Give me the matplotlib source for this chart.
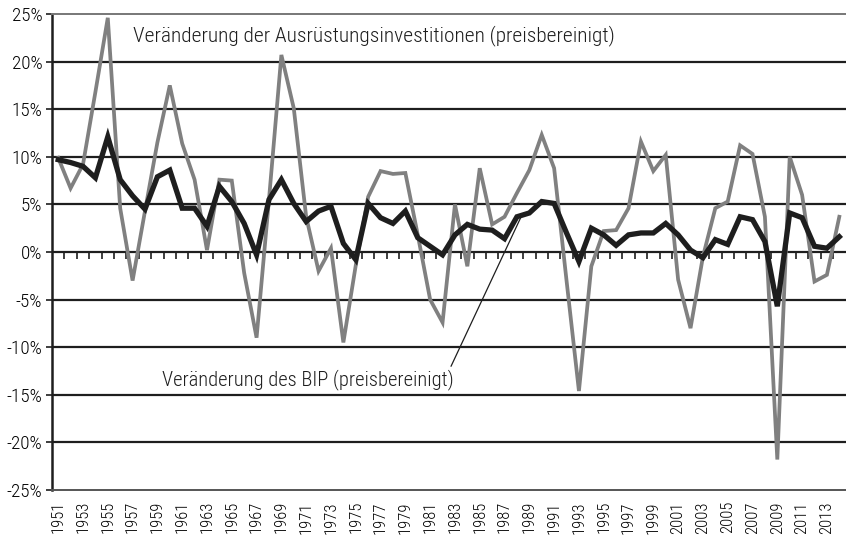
import matplotlib
matplotlib.use("Agg")
import matplotlib.pyplot as plt
import numpy as np

plt.rcParams['font.family'] = ['Roboto Condensed', 'Archivo Narrow', 'DejaVu Sans']
plt.rcParams['font.weight'] = 'light'

jahre = list(range(1951, 2015))

# Veränderung der Ausrüstungsinvestitionen (preisbereinigt), in %
investitionen = [9.9, 6.7, 9.2, 16.8, 24.6, 4.6, -3.0, 4.3, 11.5, 17.5,
                 11.4, 7.6, 0.2, 7.6, 7.5, -2.2, -9.0, 5.5, 20.7, 15.1,
                 3.7, -2.0, 0.4, -9.5, -1.4, 5.8, 8.5, 8.2, 8.3, 1.8,
                 -5.0, -7.4, 5.0, -1.5, 8.8, 2.9, 3.7, 6.2, 8.6, 12.3,
                 8.8, -3.0, -14.6, -1.5, 2.2, 2.3, 4.6, 11.6, 8.5, 10.2,
                 -2.9, -8.0, -0.5, 4.6, 5.3, 11.2, 10.3, 3.7, -21.8, 10.0,
                 6.0, -3.1, -2.4, 3.7]

# Veränderung des BIP (preisbereinigt), in %
bip = [9.7, 9.4, 9.0, 7.8, 12.1, 7.6, 5.9, 4.5, 7.9, 8.6,
       4.6, 4.6, 2.7, 6.9, 5.3, 3.0, -0.3, 5.5, 7.6, 5.1,
       3.2, 4.3, 4.8, 0.9, -0.8, 5.1, 3.6, 3.0, 4.3, 1.5,
       0.6, -0.3, 1.8, 2.9, 2.4, 2.3, 1.4, 3.7, 4.1, 5.3,
       5.1, 2.0, -1.0, 2.5, 1.8, 0.7, 1.8, 2.0, 2.0, 3.0,
       1.8, 0.2, -0.6, 1.3, 0.8, 3.7, 3.4, 1.1, -5.7, 4.1,
       3.6, 0.6, 0.4, 1.6]

y_ticks = list(range(-25, 30, 5))
x_labels = jahre[::2]

fig = plt.figure(figsize=(8.46, 5.39), dpi=100)
ax = fig.add_axes([52 / 846, 49 / 539, 793.5 / 846, 476 / 539])

for v in y_ticks[1:-1]:
    ax.axhline(v, color='#1e1e1e', lw=1.6, zorder=1)

ax.plot(jahre, investitionen, color='#808080', lw=2.7, zorder=3,
        solid_joinstyle='miter')
ax.plot(jahre, bip, color='#1e1e1e', lw=3.8, zorder=4,
        solid_joinstyle='miter')

ax.set_xlim(1950.5, 2014.5)
ax.set_ylim(-25, 25)
ax.set_yticks(y_ticks)
ax.set_yticklabels([f'{v}%' for v in y_ticks], fontsize=13.8)
ax.tick_params(axis='y', length=4, width=1.2, pad=3, color='#1e1e1e')
ax.set_xticks(x_labels)
ax.set_xticklabels([str(j) for j in x_labels], rotation=90, fontsize=12)
ax.tick_params(axis='x', length=0, pad=8)

ax.spines['right'].set_visible(False)
ax.spines['left'].set_linewidth(1.8)
ax.spines['left'].set_color('#1e1e1e')
ax.spines['top'].set_color('#777777')
ax.spines['top'].set_linewidth(1.4)
ax.spines['bottom'].set_color('#555555')
ax.spines['bottom'].set_linewidth(1.4)

# Teilstriche an der Nulllinie zwischen den Jahren
null = ax.secondary_xaxis(0.5)
null.set_xticks(np.arange(1951.5, 2014.5, 1))
null.set_xticklabels([])
null.tick_params(axis='x', length=5, width=1.2, direction='in', color='#1e1e1e')
null.spines['bottom'].set_visible(False)
null.spines['top'].set_visible(False)

ax.text(1957.0, 22.7, 'Veränderung der Ausrüstungsinvestitionen (preisbereinigt)',
        fontsize=15.4, color='#1e1e1e', va='center', ha='left', zorder=5)
ax.annotate('Veränderung des BIP (preisbereinigt)',
            xy=(1988.3, 3.6), xytext=(1959.4, -13.4),
            fontsize=14.75, color='#1e1e1e', va='center', ha='left', zorder=5,
            arrowprops=dict(arrowstyle='-', color='#1e1e1e', lw=0.9,
                            shrinkA=0, shrinkB=0, relpos=(0.985, 1.0)))

fig.savefig('out.png', dpi=100)
